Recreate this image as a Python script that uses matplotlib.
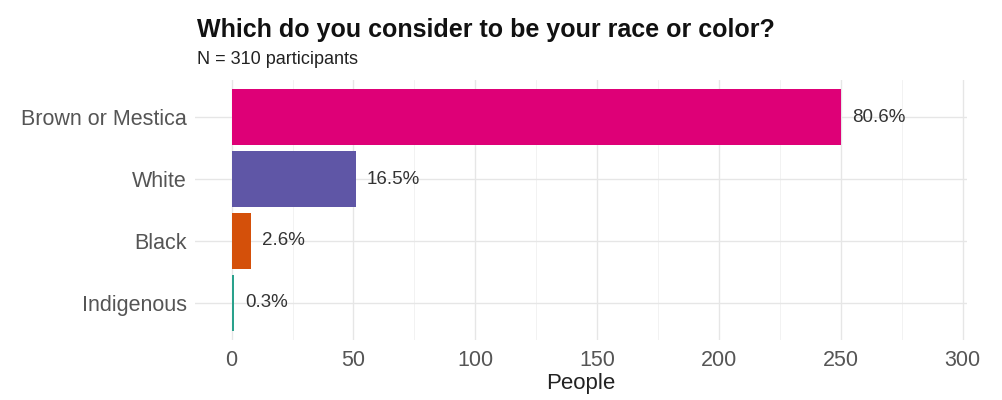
import matplotlib
matplotlib.use("Agg")
import matplotlib.pyplot as plt
from matplotlib.ticker import MultipleLocator

categories = ["Indigenous", "Black", "White", "Brown or Mestica"]
counts = [1, 8, 51, 250]
pct_labels = ["0.3%", "2.6%", "16.5%", "80.6%"]
colors = ["#2AA18C", "#D4500A", "#5F56A6", "#DE0077"]
xticks = [0, 50, 100, 150, 200, 250, 300]

plt.rcParams['font.family'] = ['Liberation Sans', 'DejaVu Sans']

fig = plt.figure(figsize=(10.03, 4.0), dpi=100)
ax = fig.add_axes([0.1945, 0.15, 0.770, 0.65])

y = list(range(len(categories)))
ax.barh(y, counts, height=0.9, color=colors, zorder=3)
for yi, c, lab in zip(y, counts, pct_labels):
    ax.text(c + 4.5, yi, lab, va="center", ha="left", fontsize=13.5, color="#333333", zorder=4)

ax.set_xlim(-15, 302)
ax.set_ylim(-0.6, len(categories) - 0.4)
ax.set_xticks(xticks)
ax.set_xticklabels([str(t) for t in xticks])
ax.xaxis.set_minor_locator(MultipleLocator(25))
ax.set_yticks(y)
ax.set_yticklabels(categories)

ax.grid(which="major", color="#E6E6E6", linewidth=1.0, zorder=0)
ax.grid(which="minor", axis="x", color="#F0F0F0", linewidth=0.6, zorder=0)
for s in ax.spines.values():
    s.set_visible(False)
ax.tick_params(which="both", length=0)
ax.tick_params(axis="both", labelsize=15.5, colors="#555555", pad=6)
ax.tick_params(axis="x", pad=7)

ax.set_xlabel("People", fontsize=16, color="#222222", labelpad=2)

fig.text(0.196, 0.925, "Which do you consider to be your race or color?",
         fontsize=18, fontweight="bold", color="#111111", ha="left", va="center")
fig.text(0.196, 0.85, "N = 310 participants", fontsize=13, color="#222222",
         ha="left", va="center")

fig.savefig("out.png", dpi=100)
